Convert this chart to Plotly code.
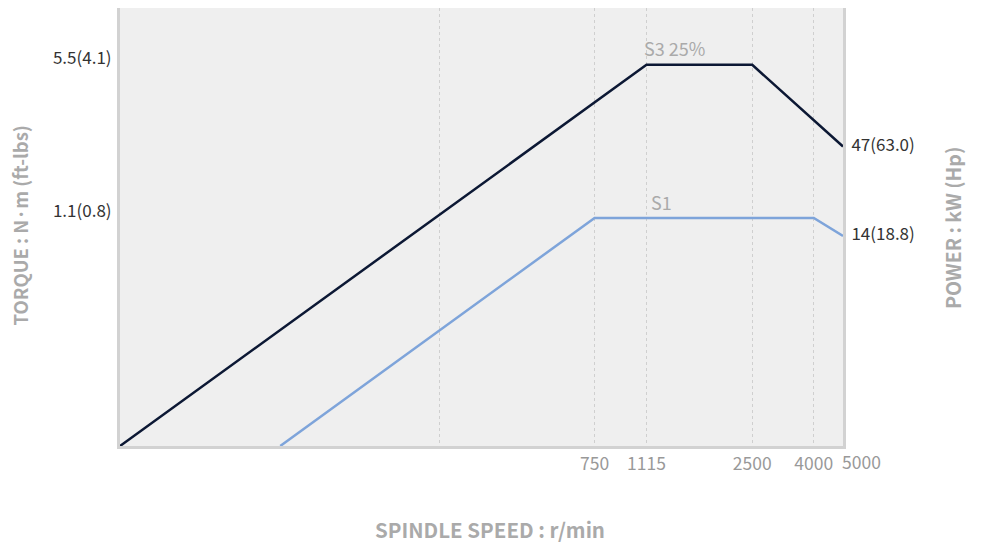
import math
import plotly.graph_objects as go

# Data (log-log chart)
s3_speed = [20, 1115, 2500, 5000]
s3_value = [0.1, 5.5, 5.5, 2.33]
s1_speed = [68, 750, 4000, 5000]
s1_value = [0.1, 1.1, 1.1, 0.91]

x_tick_vals = [230, 750, 1115, 2500, 4000, 5000]
x_tick_text = ["", "750", "1115", "2500", "4000", ""]
last_x_label = "5000"
left_tick_vals = [5.5, 1.1]
left_tick_text = ["5.5(4.1)", "1.1(0.8)"]
right_tick_vals = [2.33, 0.91]
right_tick_text = ["47(63.0)", "14(18.8)"]

FONT = "Noto Sans CJK KR"
OFF = 8  # page body margin
W, H = 984 - OFF, 544 - OFF
# plot area in page pixels
PX0, PX1, PY0, PY1 = 119.5, 843.5, 8, 446.5
L, T = PX0 - OFF, PY0 - OFF
R = W - (PX1 - OFF)
B = H - (PY1 - OFF)
YTICK = 17
XTICK = 17.5

fig = go.Figure()
fig.add_trace(go.Scatter(x=s3_speed, y=s3_value, mode="lines",
                         line=dict(color="#0c1834", width=2.5), hoverinfo="skip", showlegend=False))
fig.add_trace(go.Scatter(x=s1_speed, y=s1_value, mode="lines",
                         line=dict(color="#7ea4da", width=2.5), hoverinfo="skip", showlegend=False))
fig.add_trace(go.Scatter(x=[s1_speed[-1]], y=[s1_value[-1]], yaxis="y2", mode="markers",
                         marker=dict(opacity=0), hoverinfo="skip", showlegend=False))

fig.update_layout(
    width=W, height=H,
    margin=dict(l=L, r=R, t=T, b=B, pad=0),
    paper_bgcolor="white", plot_bgcolor="#efefef",
    font=dict(family=FONT, size=YTICK, color="#333"),
    xaxis=dict(type="log", range=[math.log10(20), math.log10(5000)],
               tickvals=x_tick_vals, ticktext=x_tick_text, tickangle=0,
               tickfont=dict(color="#999", size=XTICK),
               showgrid=True, gridcolor="#cfcfcf", griddash="dot", gridwidth=1,
               showline=True, linecolor="#d2d2d2", linewidth=3,
               ticks="", zeroline=False),
    yaxis=dict(type="log", range=[-1, 1],
               tickvals=left_tick_vals, ticktext=left_tick_text,
               tickfont=dict(color="#333", size=YTICK), ticklabelshift=-7,
               showgrid=False, showline=True, linecolor="#d2d2d2", linewidth=3,
               ticks="outside", ticklen=2, tickcolor="rgba(0,0,0,0)", zeroline=False),
    yaxis2=dict(type="log", range=[-1, 1], overlaying="y", side="right",
                tickvals=right_tick_vals, ticktext=right_tick_text,
                tickfont=dict(color="#333", size=YTICK), ticklabelshift=-2,
                showgrid=False, showline=True, linecolor="#d2d2d2", linewidth=3,
                ticks="outside", ticklen=2, tickcolor="rgba(0,0,0,0)", zeroline=False),
)

# last x tick label, shifted right of its position as in the reference
fig.add_annotation(x=math.log10(x_tick_vals[-1]), y=0, xref="x", yref="paper",
                   text=last_x_label, showarrow=False, xanchor="left", yanchor="top",
                   xshift=-3, yshift=-1, font=dict(color="#999", size=XTICK, family=FONT))

fig.add_annotation(x=math.log10(1115), y=math.log10(5.5), xref="x", yref="y",
                   text="S3 25%", showarrow=False, xanchor="left", yanchor="bottom",
                   xshift=-5, yshift=2, font=dict(color="#aaaaaa", size=18, family=FONT))
fig.add_annotation(x=math.log10(1250), y=math.log10(1.1), xref="x", yref="y",
                   text="S1", showarrow=False, xanchor="center", yanchor="bottom",
                   yshift=1, font=dict(color="#aaaaaa", size=18, family=FONT))

# (text, page x, page y, angle, size)
titles = [
    ("<b>TORQUE : N·m (ft-lbs)</b>", 19, 226, -90, 18.5),
    ("<b>POWER : kW (Hp)</b>", 953, 228, -90, 19.5),
    ("<b>SPINDLE SPEED : r/min</b>", 490, 530, 0, 20.5),
]
pw, ph = PX1 - PX0, PY1 - PY0
for text, px, py, ang, sz in titles:
    fig.add_annotation(x=(px - PX0) / pw, y=1 - (py - PY0) / ph, xref="paper", yref="paper",
                       text=text, showarrow=False, textangle=ang, borderpad=0,
                       font=dict(color="#aaaaaa", size=sz, family=FONT),
                       xanchor="center", yanchor="middle")

fig.write_html("out.html")
